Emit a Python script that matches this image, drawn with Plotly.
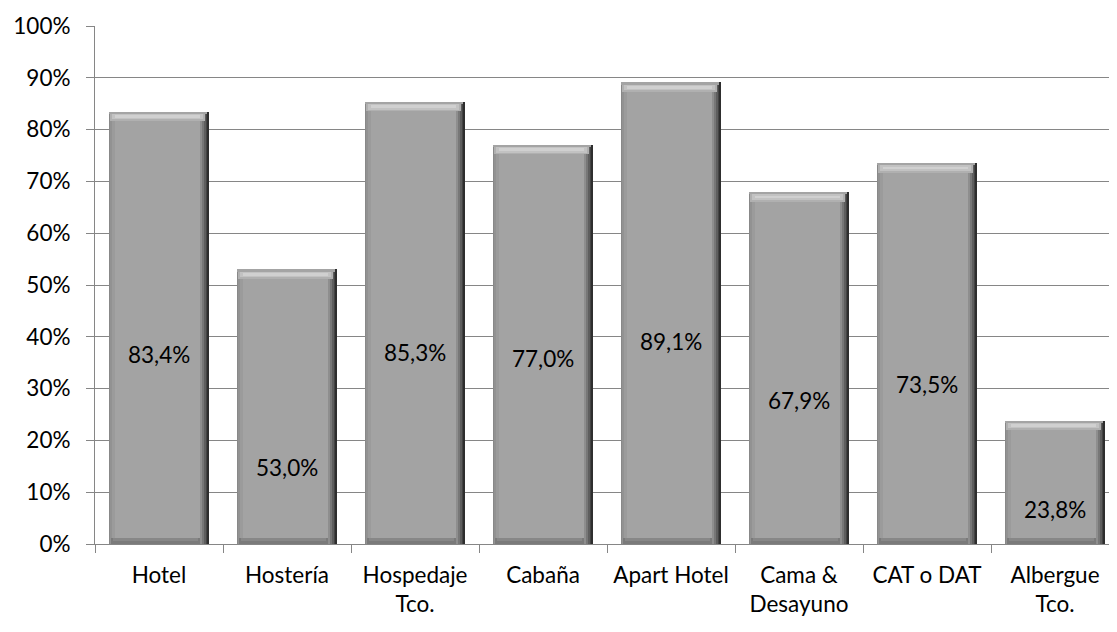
import plotly.graph_objects as go

categories = ["Hotel", "Hostería", "Hospedaje<br>Tco.", "Cabaña", "Apart Hotel",
              "Cama &<br>Desayuno", "CAT o DAT", "Albergue<br>Tco."]
values = [83.4, 53.0, 85.3, 77.0, 89.1, 67.9, 73.5, 23.8]
value_labels = ["83,4%", "53,0%", "85,3%", "77,0%", "89,1%", "67,9%", "73,5%", "23,8%"]
# vertical placement of the data labels (in % units), as seen in the reference
label_pos = [36.5, 14.7, 36.9, 35.9, 39.0, 27.8, 30.7, 6.6]

FONT = "Lato, Carlito, Calibri, sans-serif"
FS = 22.5

W = 0.785          # bar width in category units
BX = 0.075         # right bevel size
BY = 1.8           # top bevel size (in %)
BB = 1.2           # bottom bevel size (in %)

fig = go.Figure()

def layer(x0, x1, bases, tops, color):
    fig.add_trace(go.Bar(
        x=categories,
        y=[t - b for b, t in zip(bases, tops)],
        base=bases,
        offset=x0,
        width=x1 - x0,
        marker=dict(color=color, line=dict(width=0)),
        hoverinfo="skip",
        showlegend=False,
    ))

n = len(values)
zeros = [0] * n
# outer body / left bevel gradient
layer(-W / 2, W / 2, zeros, values, "#888888")
layer(-W / 2 + 0.012, W / 2, zeros, values, "#929292")
layer(-W / 2 + 0.025, W / 2, zeros, values, "#9b9b9b")
# right side dark bevel gradient
layer(W / 2 - BX, W / 2, zeros, values, "#8e8e8e")
layer(W / 2 - 0.058, W / 2, zeros, values, "#777777")
layer(W / 2 - 0.042, W / 2, zeros, values, "#5e5e5e")
layer(W / 2 - 0.027, W / 2, zeros, values, "#444444")
layer(W / 2 - 0.013, W / 2, zeros, values, "#2e2e2e")
# bottom bevel
layer(-W / 2 + 0.02, W / 2 - BX, zeros, [BB] * n, "#7a7a7a")
layer(-W / 2 + 0.035, W / 2 - BX - 0.01, [0.5] * n, [BB] * n, "#878787")
# top bevel gradient
layer(-W / 2 + 0.008, W / 2 - 0.03, [v - BY for v in values], values, "#b0b0b0")
layer(-W / 2 + 0.025, W / 2 - 0.05, [v - BY * 0.8 for v in values], [v - BY * 0.2 for v in values], "#c2c2c2")
layer(-W / 2 + 0.045, W / 2 - 0.07, [v - BY * 0.65 for v in values], [v - BY * 0.35 for v in values], "#d0d0d0")
layer(-W / 2 + 0.004, W / 2 - 0.02, [v - 0.3 for v in values], values, "#a4a4a4")
# flat face
layer(-W / 2 + 0.045, W / 2 - BX, [BB] * n, [v - BY for v in values], "#a3a3a3")

for c, lab, yp in zip(categories, value_labels, label_pos):
    fig.add_annotation(x=c, y=yp, text=lab, showarrow=False,
                       font=dict(family=FONT, size=FS, color="#000000"))

fig.update_layout(
    barmode="overlay",
    width=1111, height=624,
    margin=dict(l=87, r=0, t=18, b=88),
    paper_bgcolor="white", plot_bgcolor="white",
    font=dict(family=FONT, size=FS, color="#000000"),
    bargap=0,
)
fig.update_xaxes(
    type="category",
    automargin=False,
    showgrid=False,
    showline=True, linecolor="#868686", linewidth=1,
    ticks="outside", tickson="boundaries", ticklen=8, tickcolor="#868686",
    ticklabelstandoff=11,
    tickfont=dict(size=FS),
)
fig.update_yaxes(
    range=[0, 100],
    automargin=False,
    tickvals=[0, 10, 20, 30, 40, 50, 60, 70, 80, 90, 100],
    ticktext=[f"{v}%" for v in range(0, 101, 10)],
    showgrid=True, gridcolor="#868686", gridwidth=1,
    showline=True, linecolor="#868686", linewidth=1,
    ticks="outside", ticklen=8, tickcolor="#868686",
    zeroline=False,
    ticklabelstandoff=11,
    tickfont=dict(size=FS),
)

fig.write_html("out.html")
